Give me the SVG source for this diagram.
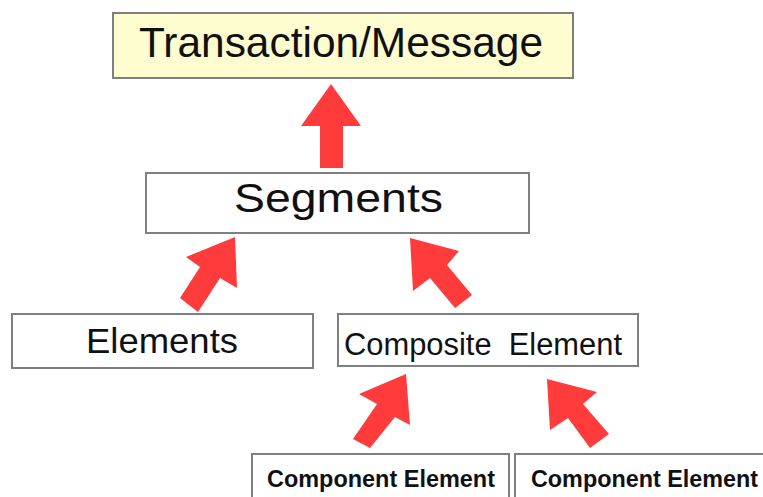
<svg xmlns="http://www.w3.org/2000/svg" width="763" height="497" viewBox="0 0 763 497">
  <style>
    .box { fill: #ffffff; stroke: #7f7f7f; stroke-width: 2; }
    .top { fill: #fdfdcf; }
    .label { font-family: "Liberation Sans", Arial, sans-serif; fill: #111111; text-anchor: start; white-space: pre; }
    .bold { font-weight: bold; }
    .arrow { fill: #ff3b3b; }
  </style>
  <rect width="763" height="497" fill="#ffffff"/>

  <!-- block arrows pointing from each part up to the level it belongs to -->
  <g id="connectors">
    <polygon class="arrow" points="331,84 361,126 343,126 343,168 320,168 320,126 301,126"/>
    <polygon class="arrow" points="235,237 237,288 220,278 198,312 180,298 200,267 186,257"/>
    <polygon class="arrow" points="410,238 459,251 447,265 472,295 455,308 430,278 413,291"/>
    <polygon class="arrow" points="406,374 410,425 395,417 370,448 353,439 377,404 359,394"/>
    <polygon class="arrow" points="547,379 597,392 583,404 609,434 590,448 568,418 550,430"/>
  </g>

  <g id="transaction">
    <rect class="box top" x="113" y="13" width="460" height="65"/>
    <text class="label" x="139" y="57" font-size="42" textLength="404" lengthAdjust="spacingAndGlyphs">Transaction/Message</text>
  </g>

  <g id="segments">
    <rect class="box" x="146" y="173" width="383" height="60"/>
    <text class="label" x="234" y="212" font-size="40" textLength="209" lengthAdjust="spacingAndGlyphs">Segments</text>
  </g>

  <g id="elements">
    <rect class="box" x="12" y="314" width="301" height="54"/>
    <text class="label" x="86" y="353" font-size="35" textLength="152" lengthAdjust="spacingAndGlyphs">Elements</text>
  </g>

  <g id="composite">
    <rect class="box" x="338" y="314" width="300" height="52"/>
    <text class="label" x="344" y="355" font-size="31" textLength="278" lengthAdjust="spacingAndGlyphs" xml:space="preserve">Composite  Element</text>
  </g>

  <g id="component-1">
    <rect class="box" x="252" y="454" width="257" height="60"/>
    <text class="label bold" x="267" y="487" font-size="23" textLength="228" lengthAdjust="spacingAndGlyphs">Component Element</text>
  </g>

  <g id="component-2">
    <rect class="box" x="515" y="454" width="260" height="60"/>
    <text class="label bold" x="531" y="487" font-size="23" textLength="227" lengthAdjust="spacingAndGlyphs">Component Element</text>
  </g>
</svg>
